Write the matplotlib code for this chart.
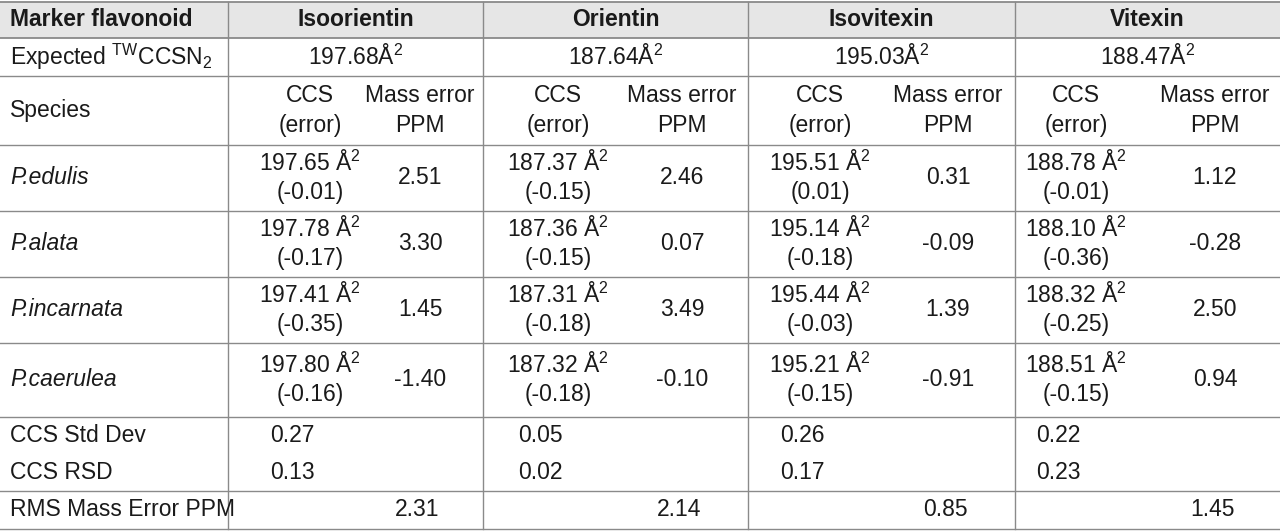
import matplotlib
matplotlib.use("Agg")
import matplotlib.pyplot as plt
from matplotlib import font_manager

names = {f.name for f in font_manager.fontManager.ttflist}
FONT = "Liberation Sans Narrow" if "Liberation Sans Narrow" in names else "Liberation Sans"
plt.rcParams["font.family"] = FONT
plt.rcParams["mathtext.fontset"] = "custom"
plt.rcParams["mathtext.rm"] = FONT
plt.rcParams["mathtext.default"] = "regular"

flavonoids = ["Isoorientin", "Orientin", "Isovitexin", "Vitexin"]
expected = ["197.68", "187.64", "195.03", "188.47"]
species = ["P.edulis", "P.alata", "P.incarnata", "P.caerulea"]
ccs = [["197.65", "187.37", "195.51", "188.78"],
       ["197.78", "187.36", "195.14", "188.10"],
       ["197.41", "187.31", "195.44", "188.32"],
       ["197.80", "187.32", "195.21", "188.51"]]
ccs_err = [["-0.01", "-0.15", "0.01", "-0.01"],
           ["-0.17", "-0.15", "-0.18", "-0.36"],
           ["-0.35", "-0.18", "-0.03", "-0.25"],
           ["-0.16", "-0.18", "-0.15", "-0.15"]]
mass_err = [["2.51", "2.46", "0.31", "1.12"],
            ["3.30", "0.07", "-0.09", "-0.28"],
            ["1.45", "3.49", "1.39", "2.50"],
            ["-1.40", "-0.10", "-0.91", "0.94"]]
std_dev = ["0.27", "0.05", "0.26", "0.22"]
rsd = ["0.13", "0.02", "0.17", "0.23"]
rms = ["2.31", "2.14", "0.85", "1.45"]

W, H = 1280, 531
fig = plt.figure(figsize=(12.8, 5.31), dpi=100)
ax = fig.add_axes([0, 0, 1, 1])
ax.set_xlim(0, W); ax.set_ylim(H, 0); ax.axis("off")

col_edges = [0, 228, 483, 748, 1015, 1280]
row_edges = [2, 38, 76, 145, 211, 277, 343, 417, 454, 491, 529]
ccs_x = [310, 558, 820, 1076]
ppm_x = [420, 682, 948, 1215]
LC = "#8a8a8a"
FS = 16.5

ax.fill_between([0, W], row_edges[0], row_edges[1], color="#e6e6e6", lw=0)
for i, y in enumerate(row_edges):
    if y == 454:
        continue
    ax.plot([0, W], [y, y], color=LC, lw=1.3 if i in (0, 1) else 1.0)
for x in col_edges[1:-1]:
    ax.plot([x, x], [row_edges[0], row_edges[-1]], color=LC, lw=1.0)

def mid(i):
    return (row_edges[i] + row_edges[i + 1]) / 2

def t(x, y, s, **kw):
    kw.setdefault("ha", "center")
    ax.text(x, y, s, va="center", fontsize=FS, color="#1a1a1a", **kw)

t(10, mid(0), "Marker flavonoid", ha="left", fontweight="bold")
t(10, mid(1), "Expected $^{TW}$CCSN$_{2}$", ha="left")
t(10, mid(2), "Species", ha="left")
for j in range(4):
    cx = (col_edges[j + 1] + col_edges[j + 2]) / 2
    t(cx, mid(0), flavonoids[j], fontweight="bold")
    t(cx, mid(1), expected[j] + "Å$^{2}$")
    t(ccs_x[j], mid(2) - 15, "CCS")
    t(ccs_x[j], mid(2) + 15, "(error)")
    t(ppm_x[j], mid(2) - 15, "Mass error")
    t(ppm_x[j], mid(2) + 15, "PPM")
for i, sp in enumerate(species):
    r = 3 + i
    t(10, mid(r), sp, ha="left", style="italic")
    for j in range(4):
        t(ccs_x[j], mid(r) - 15, ccs[i][j] + " Å$^{2}$")
        t(ccs_x[j], mid(r) + 15, "(" + ccs_err[i][j] + ")")
        t(ppm_x[j], mid(r), mass_err[i][j])
t(10, (417 + 454) / 2, "CCS Std Dev", ha="left")
t(10, (454 + 491) / 2, "CCS RSD", ha="left")
t(10, (491 + 529) / 2, "RMS Mass Error PPM", ha="left")
for j in range(4):
    t(ccs_x[j] - 18, (417 + 454) / 2, std_dev[j])
    t(ccs_x[j] - 18, (454 + 491) / 2, rsd[j])
    t(ppm_x[j] - 3, (491 + 529) / 2, rms[j])

fig.savefig("out.png", dpi=100, facecolor="white")
